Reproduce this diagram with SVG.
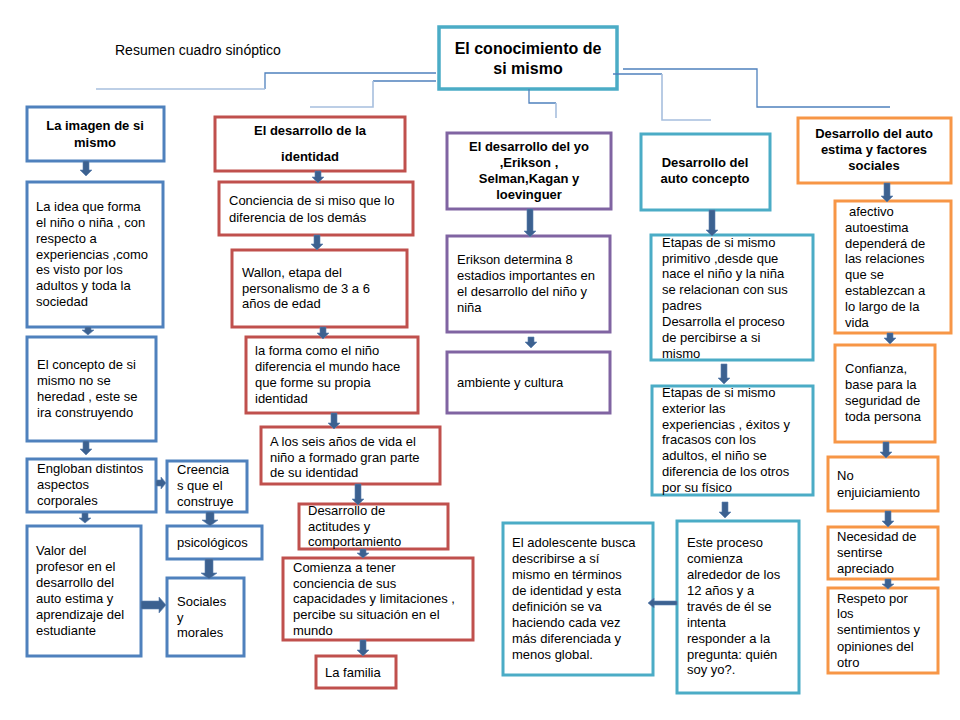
<svg xmlns="http://www.w3.org/2000/svg" width="960" height="720" viewBox="0 0 960 720">
<defs>
<style>
text{font-family:"Liberation Sans",Arial,sans-serif;font-size:13px;fill:#000}
.h{font-weight:bold;text-anchor:middle}
.bx{fill:#fff;stroke-width:3}
.bl{stroke:#4f81bd}.rd{stroke:#c0504d}.pu{stroke:#8064a2}.te{stroke:#4bacc6}.or{stroke:#f79646}
.ln{fill:none;stroke:#4f81bd;stroke-width:1.3}
.lt{fill:none;stroke:#a7bfde;stroke-width:1.6}
.ar{fill:#3c6190;stroke:#5a7fb0;stroke-width:0.6}
</style>
</defs>
<rect width="960" height="720" fill="#fff"/>
<text x="115" y="55" style="font-size:14px">Resumen cuadro sinóptico</text>

<g id="root"><rect class="bx te" x="439" y="27" width="178" height="62" style="stroke-width:3.5"/>
<text class="h" style="font-size:16px"><tspan x="528" y="54">El conocimiento de</tspan><tspan x="528" y="74">si mismo</tspan></text></g>

<g id="n-imagen"><rect class="bx bl" x="27" y="107" width="137" height="54"/>
<text class="h"><tspan x="95" y="130">La imagen de si</tspan><tspan x="95" y="147">mismo</tspan></text></g>
<g id="n-idea"><rect class="bx bl" x="27" y="182" width="136" height="145"/>
<text><tspan x="36" y="211">La idea que forma</tspan><tspan x="36" y="227">el niño o niña , con</tspan><tspan x="36" y="243">respecto  a</tspan><tspan x="36" y="259">experiencias ,como</tspan><tspan x="36" y="274">es visto por los</tspan><tspan x="36" y="290">adultos y toda la</tspan><tspan x="36" y="306">sociedad</tspan></text></g>
<g id="n-concepto"><rect class="bx bl" x="27" y="337" width="129" height="104"/>
<text><tspan x="37" y="369">El concepto de si</tspan><tspan x="37" y="385">mismo no se</tspan><tspan x="37" y="401">heredad , este se</tspan><tspan x="37" y="417">ira construyendo</tspan></text></g>
<g id="n-engloban"><rect class="bx bl" x="27" y="459" width="129" height="53"/>
<text><tspan x="37" y="473">Engloban distintos</tspan><tspan x="37" y="489">aspectos</tspan><tspan x="37" y="505">corporales</tspan></text></g>
<g id="n-creencias"><rect class="bx bl" x="167" y="461" width="80" height="51"/>
<text><tspan x="177" y="474">Creencia</tspan><tspan x="177" y="490">s que el</tspan><tspan x="177" y="506">construye</tspan></text></g>
<g id="n-psico"><rect class="bx bl" x="167" y="526" width="95" height="33"/>
<text x="177" y="547">psicológicos</text></g>
<g id="n-sociales"><rect class="bx bl" x="167" y="578" width="77" height="78"/>
<text><tspan x="177" y="606">Sociales</tspan><tspan x="177" y="622">y</tspan><tspan x="177" y="637">morales</tspan></text></g>
<g id="n-valor"><rect class="bx bl" x="27" y="526" width="114" height="130"/>
<text><tspan x="36" y="555">Valor del</tspan><tspan x="36" y="571">profesor en el</tspan><tspan x="36" y="587">desarrollo del</tspan><tspan x="36" y="603">auto estima y</tspan><tspan x="36" y="619">aprendizaje del</tspan><tspan x="36" y="635">estudiante</tspan></text></g>

<g id="r-identidad"><rect class="bx rd" x="215" y="117" width="190" height="54"/>
<text class="h"><tspan x="310" y="135">El desarrollo de la</tspan><tspan x="310" y="161">identidad</tspan></text></g>
<g id="r-conciencia"><rect class="bx rd" x="219" y="182" width="194" height="53"/>
<text><tspan x="229" y="205">Conciencia de si miso que lo</tspan><tspan x="229" y="222">diferencia de los demás</tspan></text></g>
<g id="r-wallon"><rect class="bx rd" x="232" y="250" width="175" height="77"/>
<text><tspan x="242" y="277">Wallon, etapa del</tspan><tspan x="242" y="293">personalismo de 3 a 6</tspan><tspan x="242" y="308">años de edad</tspan></text></g>
<g id="r-forma"><rect class="bx rd" x="246" y="337" width="172" height="76"/>
<text><tspan x="255" y="355">la forma como el niño</tspan><tspan x="255" y="371">diferencia el mundo hace</tspan><tspan x="255" y="387">que forme su propia</tspan><tspan x="255" y="403">identidad</tspan></text></g>
<g id="r-seis"><rect class="bx rd" x="261" y="427" width="179" height="57"/>
<text><tspan x="270" y="446">A los seis años de vida el</tspan><tspan x="270" y="462">niño a formado gran parte</tspan><tspan x="270" y="477">de su identidad</tspan></text></g>
<g id="r-actitudes"><rect class="bx rd" x="299" y="504" width="149" height="45"/>
<text><tspan x="308" y="515">Desarrollo de</tspan><tspan x="308" y="531">actitudes y</tspan><tspan x="308" y="546">comportamiento</tspan></text></g>
<g id="r-comienza"><rect class="bx rd" x="283" y="558" width="190" height="82"/>
<text><tspan x="293" y="572">Comienza a tener</tspan><tspan x="293" y="588">conciencia de sus</tspan><tspan x="293" y="603">capacidades y limitaciones ,</tspan><tspan x="293" y="619">percibe su situación en el</tspan><tspan x="293" y="635">mundo</tspan></text></g>
<g id="r-familia"><rect class="bx rd" x="316" y="656" width="80" height="32"/>
<text x="325" y="677">La familia</text></g>

<g id="p-yo"><rect class="bx pu" x="447" y="133" width="164" height="76"/>
<text class="h"><tspan x="529" y="151">El  desarrollo del yo</tspan><tspan x="529" y="167">,Erikson ,</tspan><tspan x="529" y="183">Selman,Kagan y</tspan><tspan x="529" y="199">loevinguer</tspan></text></g>
<g id="p-erikson"><rect class="bx pu" x="447" y="236" width="163" height="96"/>
<text><tspan x="457" y="264">Erikson determina 8</tspan><tspan x="457" y="280">estadios importantes en</tspan><tspan x="457" y="296">el desarrollo del niño y</tspan><tspan x="457" y="312">niña</tspan></text></g>
<g id="p-ambiente"><rect class="bx pu" x="447" y="352" width="163" height="61"/>
<text x="457" y="387">ambiente y cultura</text></g>

<g id="t-auto"><rect class="bx te" x="641" y="134" width="129" height="76"/>
<text class="h"><tspan x="705" y="167">Desarrollo del</tspan><tspan x="705" y="183">auto concepto</tspan></text></g>
<g id="t-primitivo"><rect class="bx te" x="651" y="235" width="162" height="125"/>
<text><tspan x="662" y="247">Etapas de si mismo</tspan><tspan x="662" y="263">primitivo ,desde que</tspan><tspan x="662" y="278">nace el niño y la niña</tspan><tspan x="662" y="294">se relacionan con sus</tspan><tspan x="662" y="310">padres</tspan><tspan x="662" y="326">Desarrolla el proceso</tspan><tspan x="662" y="342">de percibirse a si</tspan><tspan x="662" y="358">mismo</tspan></text></g>
<g id="t-exterior"><rect class="bx te" x="652" y="386" width="161" height="109"/>
<text><tspan x="662" y="397">Etapas de si mismo</tspan><tspan x="662" y="413">exterior  las</tspan><tspan x="662" y="429">experiencias , éxitos y</tspan><tspan x="662" y="444">fracasos con los</tspan><tspan x="662" y="460">adultos, el niño se</tspan><tspan x="662" y="476">diferencia de los otros</tspan><tspan x="662" y="492">por su físico</tspan></text></g>
<g id="t-proceso"><rect class="bx te" x="677" y="521" width="122" height="172"/>
<text><tspan x="687" y="547">Este proceso</tspan><tspan x="687" y="563">comienza</tspan><tspan x="687" y="579">alrededor de los</tspan><tspan x="687" y="595">12 años y a</tspan><tspan x="687" y="611">través de él se</tspan><tspan x="687" y="627">intenta</tspan><tspan x="687" y="643">responder a la</tspan><tspan x="687" y="659">pregunta: quién</tspan><tspan x="687" y="674">soy yo?.</tspan></text></g>
<g id="t-adolescente"><rect class="bx te" x="503" y="523" width="150" height="152"/>
<text><tspan x="512" y="547">El adolescente busca</tspan><tspan x="512" y="563">describirse a sí</tspan><tspan x="512" y="579">mismo en términos</tspan><tspan x="512" y="595">de identidad y esta</tspan><tspan x="512" y="611">definición se va</tspan><tspan x="512" y="627">haciendo cada vez</tspan><tspan x="512" y="643">más diferenciada y</tspan><tspan x="512" y="659">menos global.</tspan></text></g>

<g id="o-estima"><rect class="bx or" x="798" y="118" width="153" height="65"/>
<text class="h"><tspan x="874" y="138">Desarrollo del auto</tspan><tspan x="874" y="154">estima y factores</tspan><tspan x="874" y="170">sociales</tspan></text></g>
<g id="o-afectivo"><rect class="bx or" x="835" y="201" width="116" height="132"/>
<text><tspan x="849" y="216">afectivo</tspan><tspan x="845" y="232">autoestima</tspan><tspan x="845" y="248">dependerá  de</tspan><tspan x="845" y="263">las relaciones</tspan><tspan x="845" y="279">que se</tspan><tspan x="845" y="295">establezcan a</tspan><tspan x="845" y="311">lo largo de la</tspan><tspan x="845" y="327">vida</tspan></text></g>
<g id="o-confianza"><rect class="bx or" x="835" y="345" width="100" height="97"/>
<text><tspan x="845" y="373">Confianza,</tspan><tspan x="845" y="389">base para la</tspan><tspan x="845" y="405">seguridad de</tspan><tspan x="845" y="421">toda persona</tspan></text></g>
<g id="o-enjuic"><rect class="bx or" x="828" y="457" width="110" height="54"/>
<text><tspan x="837" y="480">No</tspan><tspan x="837" y="497">enjuiciamiento</tspan></text></g>
<g id="o-necesidad"><rect class="bx or" x="828" y="527" width="110" height="52"/>
<text><tspan x="837" y="541">Necesidad de</tspan><tspan x="837" y="557">sentirse</tspan><tspan x="837" y="573">apreciado</tspan></text></g>
<g id="o-respeto"><rect class="bx or" x="828" y="588" width="110" height="85"/>
<text><tspan x="837" y="603">Respeto por</tspan><tspan x="837" y="618">los</tspan><tspan x="837" y="634">sentimientos y</tspan><tspan x="837" y="651">opiniones del</tspan><tspan x="837" y="667">otro</tspan></text></g>

<g id="connectors">
<path class="ln" d="M436,73H265V89"/><path class="lt" d="M265,89H96"/>
<path class="ln" d="M436,81H373"/><path class="lt" d="M373,81V107H310"/>
<path class="ln" d="M529,89V103H556"/><path class="lt" d="M556,103V118"/>
<path class="ln" d="M613,74H662"/><path class="lt" d="M662,74V120H711"/>
<path class="ln" d="M623,69H757V107H890"/>
<path class="ar" d="M83,161H89V170H92L86,176L80,170H83Z"/>
<path class="ar" d="M85,327H91V330H94L88,335L82,330H85Z"/>
<path class="ar" d="M83,441H89V449H92L86,455L80,449H83Z"/>
<path class="ar" d="M82,513H88V518H91L85,523L79,518H82Z"/>
<path class="ar" d="M156,480V486H161V489L166,483L161,477V480Z"/>
<path class="ar" d="M206,512H214V520H218L210,526L202,520H206Z"/>
<path class="ar" d="M205,559H213V573H217L209,579L201,573H205Z"/>
<path class="ar" d="M141,601V609H159V613L166,605L159,597V601Z"/>
<path class="ar" d="M315,171H321V177H324L318,183L312,177H315Z"/>
<path class="ar" d="M314,235H320V244H323L317,250L311,244H314Z"/>
<path class="ar" d="M320,327H326V333H329L323,339L317,333H320Z"/>
<path class="ar" d="M331,413H337V423H340L334,429L328,423H331Z"/>
<path class="ar" d="M355,484H361V499H364L358,505L352,499H355Z"/>
<path class="ar" d="M360,549H366V553H369L363,558L357,553H360Z"/>
<path class="ar" d="M360,640H366V650H369L363,656L357,650H360Z"/>
<path class="ar" d="M527,209H533V231H536L530,237L524,231H527Z"/>
<path class="ar" d="M528,337H534V342H537L531,348L525,342H528Z"/>
<path class="ar" d="M709,210H715V230H718L712,236L706,230H709Z"/>
<path class="ar" d="M721,364H727V378H730L724,384L718,378H721Z"/>
<path class="ar" d="M722,502H728V512H731L725,518L719,512H722Z"/>
<path class="ar" d="M677,601V605H654V608L648,603L654,598V601Z"/>
<path class="ar" d="M884,183H890V196H893L887,202L881,196H884Z"/>
<path class="ar" d="M887,333H893V338H896L890,344L884,338H887Z"/>
<path class="ar" d="M883,442H889V452H892L886,458L880,452H883Z"/>
<path class="ar" d="M885,511H891V521H894L888,527L882,521H885Z"/>
<path class="ar" d="M885,579H891V584H894L888,589L882,584H885Z"/>
</g>
</svg>
